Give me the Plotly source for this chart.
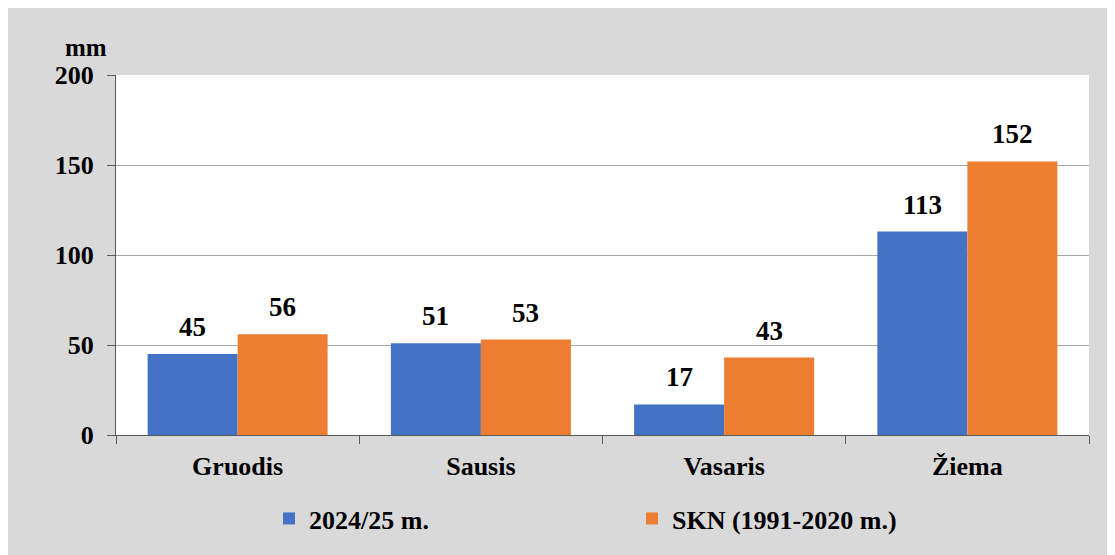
import plotly.graph_objects as go

categories = ["Gruodis", "Sausis", "Vasaris", "Žiema"]
series_2024 = [45, 51, 17, 113]
series_skn = [56, 53, 43, 152]
name_2024 = "2024/25 m."
name_skn = "SKN (1991-2020 m.)"
y_ticks = [0, 50, 100, 150, 200]

FONT = "'Liberation Serif', 'Times New Roman', Times, serif"
BLUE = "#4472C4"
ORANGE = "#ED7D31"
OFF = 8  # page body margin
W, H = 1107, 547
ML, MT = 116 - OFF, 75 - OFF
PW, PH = 1089 - 116, 435 - 75
MR, MB = W - ML - PW, H - MT - PH
BARGAP = 0.26

fig = go.Figure()
fig.add_trace(go.Bar(x=categories, y=series_2024, name=name_2024, marker_color=BLUE,
                     marker_line_width=0))
fig.add_trace(go.Bar(x=categories, y=series_skn, name=name_skn, marker_color=ORANGE,
                     marker_line_width=0))

# data labels
cat_px = PW / len(categories)
bar_px = cat_px * (1 - BARGAP) / 2
anns = []
for vals, sh in ((series_2024, -bar_px / 2), (series_skn, bar_px / 2)):
    for c, v in zip(categories, vals):
        anns.append(dict(x=c, y=v, xref="x", yref="y", text=str(v), showarrow=False,
                         xshift=sh, yshift=10, yanchor="bottom",
                         font=dict(family=FONT, size=27, color="black", weight="bold")))
anns.append(dict(x=(86 - 116) / PW, y=1 + (75 - 47) / PH, xref="paper", yref="paper",
                 text="mm", showarrow=False, xanchor="center", yanchor="middle",
                 font=dict(family=FONT, size=25, color="black", weight="bold")))

fig.update_layout(
    width=W, height=H,
    margin=dict(l=ML, r=MR, t=MT, b=MB),
    paper_bgcolor="#D9D9D9",
    plot_bgcolor="white",
    barmode="group", bargap=BARGAP, bargroupgap=0,
    font=dict(family=FONT, size=26, color="black", weight="bold"),
    annotations=anns,
    showlegend=True,
    legend=dict(orientation="h", x=(269 - 116) / PW, xanchor="left",
                y=-(518.5 - 435) / PH,
                yanchor="middle", bgcolor="rgba(0,0,0,0)",
                font=dict(family=FONT, size=26, color="black", weight="bold"),
                entrywidth=318, entrywidthmode="pixels", traceorder="normal"),
    xaxis=dict(showline=True, linecolor="#595959", linewidth=1,
               ticks="outside", ticklen=8, tickcolor="#595959", tickson="boundaries",
               showgrid=False, ticklabelstandoff=8),
    yaxis=dict(range=[0, 200], tickvals=y_ticks, showline=True, linecolor="#595959",
               linewidth=1, ticks="outside", ticklen=8, tickcolor="#595959",
               showgrid=True, gridcolor="#A6A6A6", gridwidth=1, zeroline=False,
               ticklabelstandoff=8),
)

fig.write_html("out.html")
